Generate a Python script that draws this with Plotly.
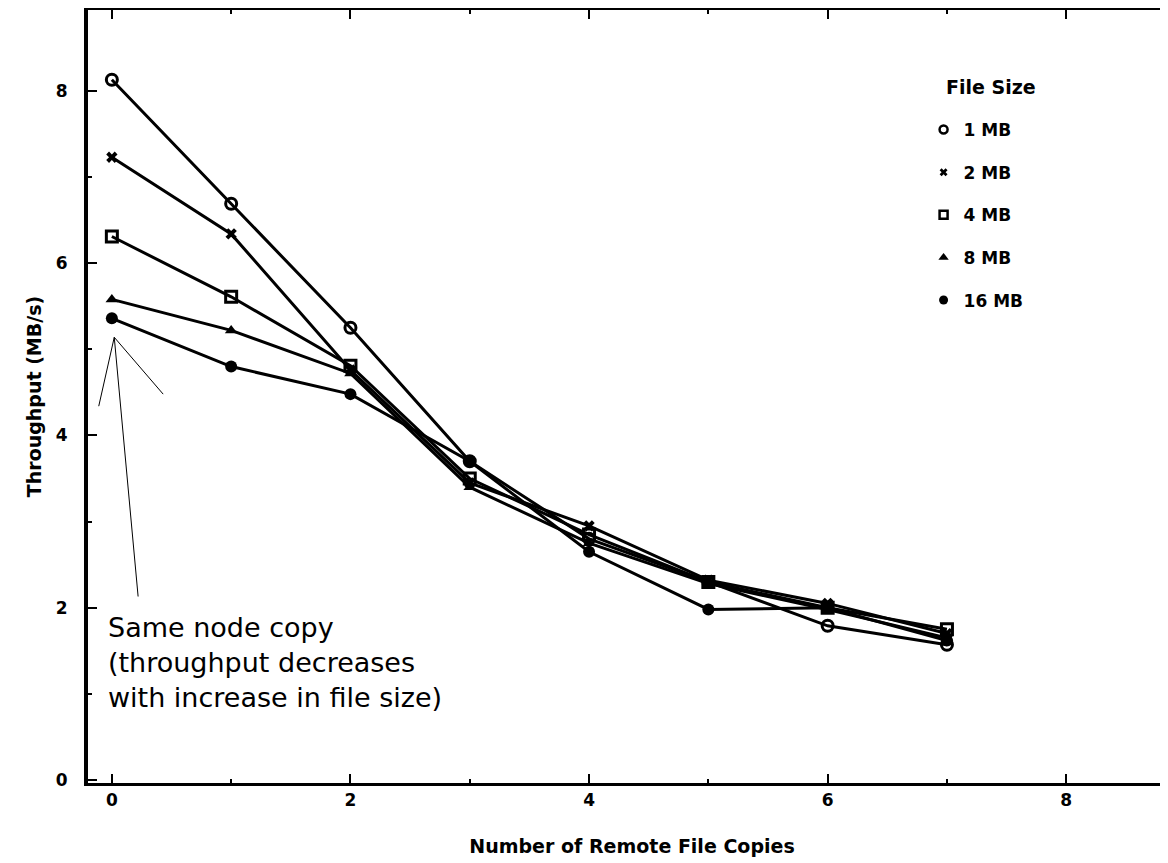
import plotly.graph_objects as go

# ---- data ----
copies = [0, 1, 2, 3, 4, 5, 6, 7]
series_names = ["1 MB", "2 MB", "4 MB", "8 MB", "16 MB"]
tp_1mb = [8.13, 6.69, 5.25, 3.70, 2.80, 2.30, 1.79, 1.57]
tp_2mb = [7.23, 6.34, 4.76, 3.45, 2.95, 2.32, 2.05, 1.70]
tp_4mb = [6.31, 5.61, 4.81, 3.50, 2.85, 2.30, 2.00, 1.75]
tp_8mb = [5.58, 5.22, 4.72, 3.40, 2.75, 2.28, 1.98, 1.65]
tp_16mb = [5.36, 4.80, 4.48, 3.70, 2.65, 1.98, 2.00, 1.62]
x_ticks = [0, 2, 4, 6, 8]
y_ticks = [0, 2, 4, 6, 8]
legend_title = "File Size"

# callout pointer lines (data coords): apex and end points
callout_apex = (0.02, 5.14)
callout_ends = [(-0.11, 4.34), (0.43, 4.48), (0.22, 2.13)]
note_text = "Same node copy<br>(throughput decreases<br>with increase in file size)"

values = [tp_1mb, tp_2mb, tp_4mb, tp_8mb, tp_16mb]
symbols = ["circle-open", "x", "square-open", "triangle-up", "circle"]
msizes = [11, 10, 11, 11, 12]
leg_sizes = [8, 7, 8, 9, 9]

fig = go.Figure()
for i, (name, vals) in enumerate(zip(series_names, values)):
    open_sym = symbols[i].endswith("open")
    fig.add_trace(go.Scatter(
        x=copies, y=vals, name=name, mode="lines+markers",
        showlegend=False,
        line=dict(color="black", width=3),
        marker=dict(symbol=symbols[i], size=msizes[i], color="black",
                    line=dict(color="black", width=3 if open_sym else 0)),
    ))
# legend entries (markers only, like the reference key)
for i, name in enumerate(series_names):
    open_sym = symbols[i].endswith("open")
    fig.add_trace(go.Scatter(
        x=[None], y=[None], name=name, mode="markers", legendgroup=name,
        marker=dict(symbol=symbols[i], size=leg_sizes[i], color="black",
                    line=dict(color="black", width=2.5 if open_sym else 0)),
    ))

for (ex, ey) in callout_ends:
    fig.add_shape(type="line", xref="x", yref="y",
                  x0=callout_apex[0], y0=callout_apex[1], x1=ex, y1=ey,
                  line=dict(color="black", width=1))

fig.add_annotation(x=-0.05, y=1.97, xref="x", yref="y", text=note_text,
                   showarrow=False, xanchor="left", yanchor="top", align="left",
                   font=dict(family="DejaVu Sans", size=27, color="black"))

fig.add_annotation(x=0.787, y=0.9, xref="paper", yref="paper", text=legend_title,
                   showarrow=False, xanchor="left", yanchor="middle",
                   font=dict(family="DejaVu Sans", size=19, color="black", weight="bold"))

tickfont = dict(family="DejaVu Sans", size=17, color="black", weight="bold")
titlefont = dict(family="DejaVu Sans", size=19, color="black", weight="bold")
fig.update_layout(
    width=1168, height=863,
    margin=dict(l=80, r=0, t=2, b=88, autoexpand=False),
    paper_bgcolor="white", plot_bgcolor="white",
    showlegend=True,
    legend=dict(
        x=0.768, y=0.868, xanchor="left", yanchor="top",
        font=dict(family="DejaVu Sans", size=17, color="black", weight="bold"),
        traceorder="grouped", tracegroupgap=17.5, itemwidth=30,
        bgcolor="rgba(0,0,0,0)", borderwidth=0,
    ),
    xaxis=dict(
        range=[-0.2, 8.92], tickvals=x_ticks, ticktext=[str(v) for v in x_ticks],
        showgrid=False, zeroline=False, showline=True, linecolor="black", linewidth=3,
        mirror="ticks", ticks="inside", ticklen=9, tickwidth=2, tickcolor="black",
        minor=dict(ticks="inside", ticklen=4, tickwidth=2, dtick=1, tick0=1, tickcolor="black", showgrid=False),
        tickfont=tickfont, automargin=False,
        title=dict(text="Number of Remote File Copies", standoff=31, font=titlefont),
    ),
    yaxis=dict(
        range=[-0.035, 8.94], tickvals=y_ticks, ticktext=[str(v) for v in y_ticks],
        showgrid=False, zeroline=False, showline=True, linecolor="black", linewidth=4,
        mirror=False, ticks="inside", ticklen=9, tickwidth=2, tickcolor="black",
        minor=dict(ticks="inside", ticklen=4, tickwidth=2, dtick=1, tick0=1, tickcolor="black", showgrid=False),
        tickfont=tickfont, ticklabelstandoff=13, automargin=False,
        title=dict(text="Throughput (MB/s)", standoff=10, font=titlefont),
    ),
)

fig.write_html("out.html")
